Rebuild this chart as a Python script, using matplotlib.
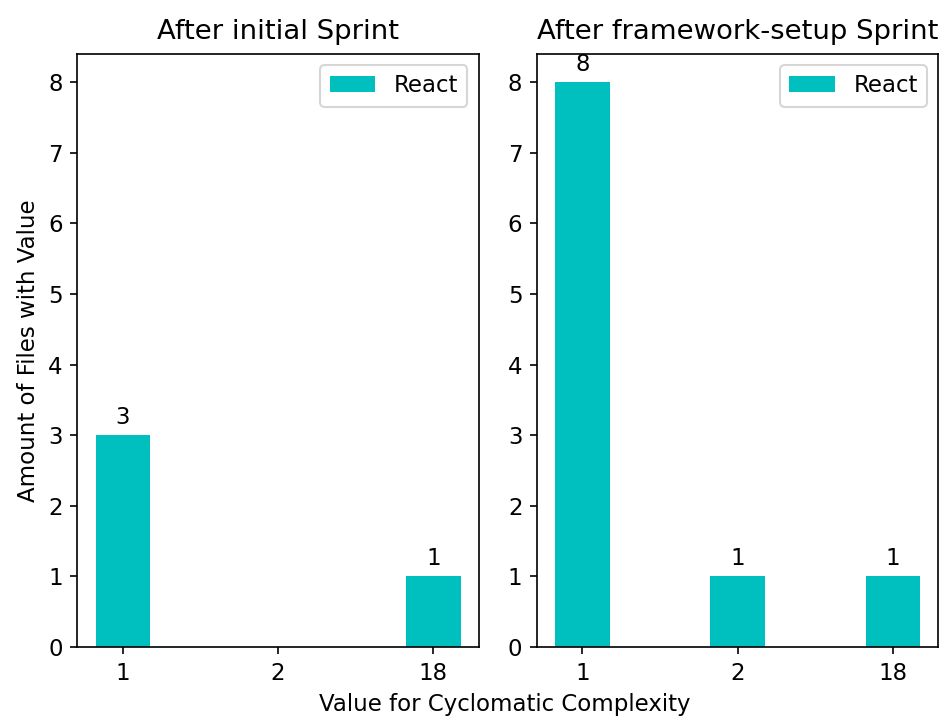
import numpy as np
import matplotlib
matplotlib.use("Agg")
import matplotlib.pyplot as plt

plt.rcParams["font.size"] = 11

# Cyclomatic complexity values and how many files had each value
complexity_labels = ["1", "2", "18"]
initial_counts = [3, 0, 1]
framework_counts = [8, 1, 1]

x = np.arange(len(complexity_labels))
width = 0.35

fig, (ax1, ax2) = plt.subplots(1, 2, figsize=(944 / 150, 718 / 150), dpi=150)
fig.subplots_adjust(left=0.082, right=0.994, top=0.925, bottom=0.099, wspace=0.145)


def draw_panel(ax, counts, title):
    rects = ax.bar(x, counts, width, color="c", label="React")
    for rect, val in zip(rects, counts):
        if val > 0:
            ax.annotate(str(val),
                        xy=(rect.get_x() + rect.get_width() / 2, val),
                        xytext=(0, 3), textcoords="offset points",
                        ha="center", va="bottom")
    ax.set_title(title, pad=7)
    ax.set_xticks(x)
    ax.set_xticklabels(complexity_labels)
    ax.set_ylim(0, 8.4)
    ax.legend(loc="upper right")


draw_panel(ax1, initial_counts, "After initial Sprint")
draw_panel(ax2, framework_counts, "After framework-setup Sprint")

ax1.set_ylabel("Amount of Files with Value")
fig.text(0.535, 0.003, "Value for Cyclomatic Complexity", ha="center", va="bottom")

fig.savefig("out.png", dpi=150)
